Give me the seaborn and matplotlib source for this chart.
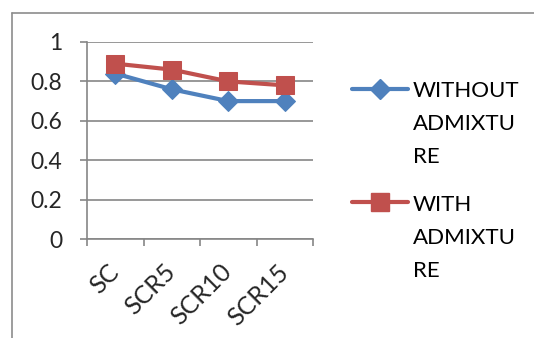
import matplotlib
matplotlib.use("Agg")
import matplotlib.pyplot as plt
from matplotlib.lines import Line2D
import seaborn as sns
import pandas as pd

categories = ["SC", "SCR5", "SCR10", "SCR15"]
without_admixture = [0.84, 0.76, 0.70, 0.70]
with_admixture = [0.89, 0.86, 0.80, 0.78]
series_labels = ["WITHOUT\nADMIXTU\nRE", "WITH\nADMIXTU\nRE"]
y_ticks = [0, 0.2, 0.4, 0.6, 0.8, 1.0]
y_tick_labels = ["0", "0.2", "0.4", "0.6", "0.8", "1"]

sns.set_theme(style="white")
plt.rcParams["font.family"] = ["Lato", "DejaVu Sans"]

df = pd.DataFrame({
    "x": list(range(len(categories))) * 2,
    "value": without_admixture + with_admixture,
    "series": [series_labels[0]] * 4 + [series_labels[1]] * 4,
})

blue = "#4F81BD"
red = "#C0504D"
grid_c = "#868686"
W, H = 534, 338

fig = plt.figure(figsize=(W / 100, H / 100), dpi=100)
ax = fig.add_axes([87 / W, 1 - 239 / H, (313 - 87) / W, (239 - 42) / H])

styles = [dict(color=blue, marker="D", markersize=10.5),
          dict(color=red, marker="s", markersize=12.5)]
for label, st, z in zip(series_labels, styles, (3, 4)):
    sns.lineplot(data=df[df.series == label], x="x", y="value", ax=ax, lw=3,
                 markeredgecolor=st["color"], legend=False, zorder=z, **st)

ax.set_xlim(-0.5, len(categories) - 0.5)
ax.set_ylim(0, 1)
ax.set_yticks(y_ticks)
ax.set_yticklabels(y_tick_labels, fontsize=16.5)
ax.yaxis.grid(True, color=grid_c, lw=1.2)
ax.set_axisbelow(True)

ax.set_xticks(range(len(categories)))
ax.set_xticklabels(categories, rotation=45, ha="right", va="center",
                   rotation_mode="anchor", fontsize=18)
ax.set_xticks([i - 0.5 for i in range(len(categories) + 1)], minor=True)
ax.tick_params(axis="x", which="major", length=0, pad=21)
ax.tick_params(axis="x", which="minor", length=5, color=grid_c, width=1.2,
               direction="out", bottom=True)
ax.tick_params(axis="y", length=5, color=grid_c, width=1.2, left=True, pad=13)
ax.set_xlabel("")
ax.set_ylabel("")
for s in ["top", "right"]:
    ax.spines[s].set_visible(False)
for s in ["left", "bottom"]:
    ax.spines[s].set_color(grid_c)
    ax.spines[s].set_linewidth(1.2)

# legend: line-and-marker sample beside a wrapped label
legend_rows = [(89, 97), (202, 211)]
for label, st, (y_handle, y_base) in zip(series_labels, styles, legend_rows):
    fig.add_artist(Line2D([352 / W, 408 / W], [1 - y_handle / H] * 2, lw=3,
                          color=st["color"], transform=fig.transFigure))
    fig.add_artist(Line2D([380 / W], [1 - y_handle / H], lw=0,
                          marker=st["marker"], markersize=st["markersize"],
                          color=st["color"], transform=fig.transFigure))
    for i, line in enumerate(label.split("\n")):
        fig.text(413 / W, 1 - (y_base + 33 * i) / H, line, fontsize=16,
                 ha="left", va="baseline", color="black")

# chart-area frame on the left and top
frame = dict(color="#8C8C8C", lw=1.2, transform=fig.transFigure)
fig.add_artist(Line2D([11.5 / W, 11.5 / W], [0, 1 - 12.5 / H], **frame))
fig.add_artist(Line2D([11.5 / W, 1.0], [1 - 12.5 / H] * 2, **frame))

fig.savefig("out.png", dpi=100)
